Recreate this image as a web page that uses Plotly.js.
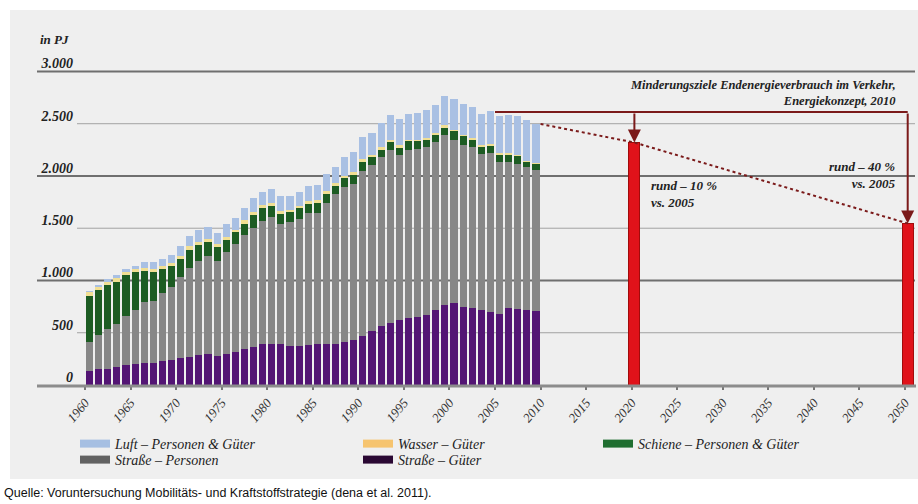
<!DOCTYPE html>
<html><head><meta charset="utf-8">
<script src="https://cdn.plot.ly/plotly-3.0.1.min.js"></script>
<style>html,body{margin:0;padding:0;background:#fff}#chart{width:918px;height:504px}</style>
</head><body><div id="chart"></div>
<script>
// ---- data (PJ) ----
const years = [1960,1961,1962,1963,1964,1965,1966,1967,1968,1969,
  1970,1971,1972,1973,1974,1975,1976,1977,1978,1979,
  1980,1981,1982,1983,1984,1985,1986,1987,1988,1989,
  1990,1991,1992,1993,1994,1995,1996,1997,1998,1999,
  2000,2001,2002,2003,2004,2005,2006,2007,2008,2009];
const strasseGueter = [135,157,157,173,192,205,215,215,231,237,
  263,272,288,301,282,292,314,340,362,391,
  391,391,372,372,385,388,394,397,410,429,
  465,513,567,590,622,644,647,670,715,769,
  788,750,734,715,696,679,734,728,715,705];
const strassePersonen = [272,324,378,410,471,513,577,593,647,705,
  769,850,898,930,904,980,1031,1099,1144,1180,
  1212,1154,1189,1221,1256,1253,1343,1430,1481,1494,
  1583,1593,1619,1654,1580,1606,1609,1606,1609,1619,
  1558,1548,1545,1493,1522,1459,1404,1391,1368,1353];
const schiene = [449,432,423,407,385,365,298,275,231,196,
  176,173,151,138,135,113,120,106,122,118,
  112,93,96,96,93,103,90,80,87,87,
  87,77,67,80,67,80,74,70,67,74,
  80,80,67,71,67,67,67,70,52,54];
const wasser = [32,29,32,36,32,26,32,26,26,29,
  29,32,28,32,32,32,20,32,29,29,
  22,30,22,23,26,22,29,22,25,25,
  25,22,23,22,23,16,16,16,19,22,
  16,16,16,19,19,13,13,13,12,10];
const luft = [16,16,20,22,32,32,58,67,73,73,
  93,99,122,112,105,125,115,119,135,128,
  141,140,129,137,144,144,163,161,183,196,
  209,208,230,241,250,250,260,269,266,285,
  298,295,295,295,315,359,369,375,391,375];
const seriesNames = ['Luft – Personen & Güter','Wasser – Güter','Schiene – Personen & Güter','Straße – Personen','Straße – Güter'];
const targetYears = [2020, 2050];
const targetValues = [2320, 1546];
const targetLabels = ['rund – 10 %<br>vs. 2005', 'rund – 40 %<br>vs. 2005'];
const yTickVals = [0,500,1000,1500,2000,2500,3000];
const yTickText = ['0','500','1.000','1.500','2.000','2.500','3.000'];
const xTickVals = [1960,1965,1970,1975,1980,1985,1990,1995,2000,2005,2010,2015,2020,2025,2030,2035,2040,2045,2050];
const xTickText = ['1960','1965','1970','1975','1980','1985','1990','1995','2000','2005','2010','2015','2020','2025','2030','2035','2040','2045','2050'];
const yAxisUnit = 'in PJ';
const noteTitle = 'Minderungsziele Endenergieverbrauch im Verkehr,<br>Energiekonzept, 2010';
const sourceText = 'Quelle: Voruntersuchung Mobilitäts- und Kraftstoffstrategie (dena et al. 2011).';

// ---- styling ----
const serif = 'Liberation Serif, DejaVu Serif, serif';
const dark = '#7b1a1a';
const barX = years.map(y => y + 0.5);
const barW = 0.78;
const totals = years.map((y, i) => strasseGueter[i] + strassePersonen[i] + schiene[i] + wasser[i] + luft[i]);
const total2005 = totals[years.indexOf(2005)];
const lineLevel = total2005 + 35;
const tgtX = targetYears.map(y => y + 0.3);
const Y_MAX = 3100;

function stack(name, vals, color) {
  return {type: 'bar', x: barX, y: vals, width: barW, name: name, showlegend: false,
    marker: {color: color, line: {width: 0}}, hoverinfo: 'skip'};
}
const traces = [
  stack(seriesNames[4], strasseGueter, '#531574'),
  stack(seriesNames[3], strassePersonen, '#878787'),
  stack(seriesNames[2], schiene, '#1d5c23'),
  stack(seriesNames[1], wasser, '#f1df93'),
  stack(seriesNames[0], luft, '#a9c0e3'),
  {type: 'bar', x: tgtX, y: targetValues, width: 1.2, showlegend: false, hoverinfo: 'skip',
   marker: {color: '#e0121a', line: {color: '#a10b0b', width: 1}}},
  {type: 'scatter', mode: 'lines', x: [2010, tgtX[0], tgtX[1]], y: [totals[totals.length - 1], targetValues[0], targetValues[1]],
   line: {color: dark, width: 2, dash: 'dot'}, showlegend: false, hoverinfo: 'skip'}
];
const legendColors = ['#a6bfe2', '#f6c46f', '#1f6e30', '#626262', '#2a0833'];
const legendIds = ['legend', 'legend2', 'legend3', 'legend4', 'legend5'];
seriesNames.forEach((n, i) => {
  traces.push({type: 'scatter', mode: 'lines', x: [null], y: [null], name: n,
    line: {color: legendColors[i], width: 8}, legend: legendIds[i], showlegend: true});
});

const L = 77, W = 838, B = 385, H = 324;
const px = x => (x - L) / W;
const py = y => (B - y) / H;
const legFont = {family: serif, size: 14, style: 'italic', color: '#222'};
function leg(xp, yp) {
  return {x: px(xp), y: py(yp), xanchor: 'left', yanchor: 'middle', orientation: 'v',
    bgcolor: 'rgba(0,0,0,0)', borderwidth: 0, font: legFont, itemclick: false};
}

const shapes = [
  {type: 'rect', xref: 'paper', yref: 'paper', x0: px(10), x1: px(930), y0: py(479), y1: py(10),
   fillcolor: '#efefef', line: {width: 0}, layer: 'below'}
];
yTickVals.forEach(v => {
  if (v === 0) return;
  const major = v % 1000 === 0;
  shapes.push({type: 'line', xref: 'paper', yref: 'paper', x0: major ? px(37) : 0, x1: 1,
    y0: v / Y_MAX, y1: v / Y_MAX, layer: 'below',
    line: {color: major ? '#6f6f6f' : '#a3a3a3', width: major ? 2 : 1}});
});
shapes.push({type: 'line', xref: 'paper', yref: 'paper', x0: px(37), x1: px(916), y0: py(386), y1: py(386),
  line: {color: '#8c8c8c', width: 3}});
shapes.push({type: 'line', xref: 'x', yref: 'y', x0: 2005, x1: tgtX[1], y0: lineLevel, y1: lineLevel,
  line: {color: dark, width: 2}});

const annFont = {family: serif, size: 13, style: 'italic', weight: 'bold', color: '#222'};
const annotations = [
  {xref: 'paper', yref: 'paper', x: px(38), y: py(40), xanchor: 'left', yanchor: 'middle', showarrow: false,
   text: yAxisUnit, font: {family: serif, size: 13, style: 'italic', weight: 'bold', color: '#222'}},
  {xref: 'paper', yref: 'paper', x: px(898), y: py(93), xanchor: 'right', yanchor: 'middle', align: 'right',
   showarrow: false, text: noteTitle, font: {family: serif, size: 12.5, style: 'italic', weight: 'bold', color: '#222'}},
  {xref: 'x', yref: 'y', x: tgtX[0] + 1.6, y: 1830, xanchor: 'left', yanchor: 'middle', align: 'left',
   showarrow: false, text: targetLabels[0], font: annFont},
  {xref: 'x', yref: 'y', x: tgtX[1] - 1.1, y: 2010, xanchor: 'right', yanchor: 'middle', align: 'right',
   showarrow: false, text: targetLabels[1], font: annFont},
  {xref: 'paper', yref: 'paper', x: px(2), y: py(493), xanchor: 'left', yanchor: 'middle', showarrow: false,
   text: sourceText, font: {family: 'Liberation Sans Narrow, Liberation Sans, Arial, sans-serif', size: 12.5, color: '#111'}}
];
targetYears.forEach((t, i) => {
  annotations.push({xref: 'x', yref: 'y', axref: 'x', ayref: 'y', x: tgtX[i], y: targetValues[i],
    ax: tgtX[i], ay: lineLevel, text: '', showarrow: true, arrowhead: 2, arrowsize: 1.3,
    arrowwidth: 2, arrowcolor: dark, standoff: 0, startstandoff: 0});
});

const layout = {
  width: 918, height: 504,
  margin: {l: L, r: 918 - L - W, t: B - H, b: 504 - B, pad: 0},
  paper_bgcolor: '#ffffff', plot_bgcolor: 'rgba(0,0,0,0)',
  barmode: 'stack',
  xaxis: {range: [1959.12, 2051.10], tickvals: xTickVals, ticktext: xTickText, tickangle: -50,
    showgrid: false, zeroline: false, showline: false, ticks: 'outside', ticklen: 4, tickwidth: 2, tickcolor: '#777',
    tickfont: {family: serif, size: 13, style: 'italic', color: '#333'}, fixedrange: true},
  yaxis: {range: [0, Y_MAX], tickvals: yTickVals, ticktext: yTickText, showgrid: false, zeroline: false,
    showline: false, ticks: '', ticklabelstandoff: 3, ticklabelshift: -8,
    tickfont: {family: serif, size: 14, style: 'italic', weight: 'bold', color: '#222'}, fixedrange: true},
  shapes: shapes,
  annotations: annotations,
  legend: leg(75, 444), legend2: leg(358, 444), legend3: leg(598, 444),
  legend4: leg(75, 460), legend5: leg(358, 460),
  showlegend: true
};
Plotly.newPlot('chart', traces, layout, {displayModeBar: false, staticPlot: true});
</script></body></html>
